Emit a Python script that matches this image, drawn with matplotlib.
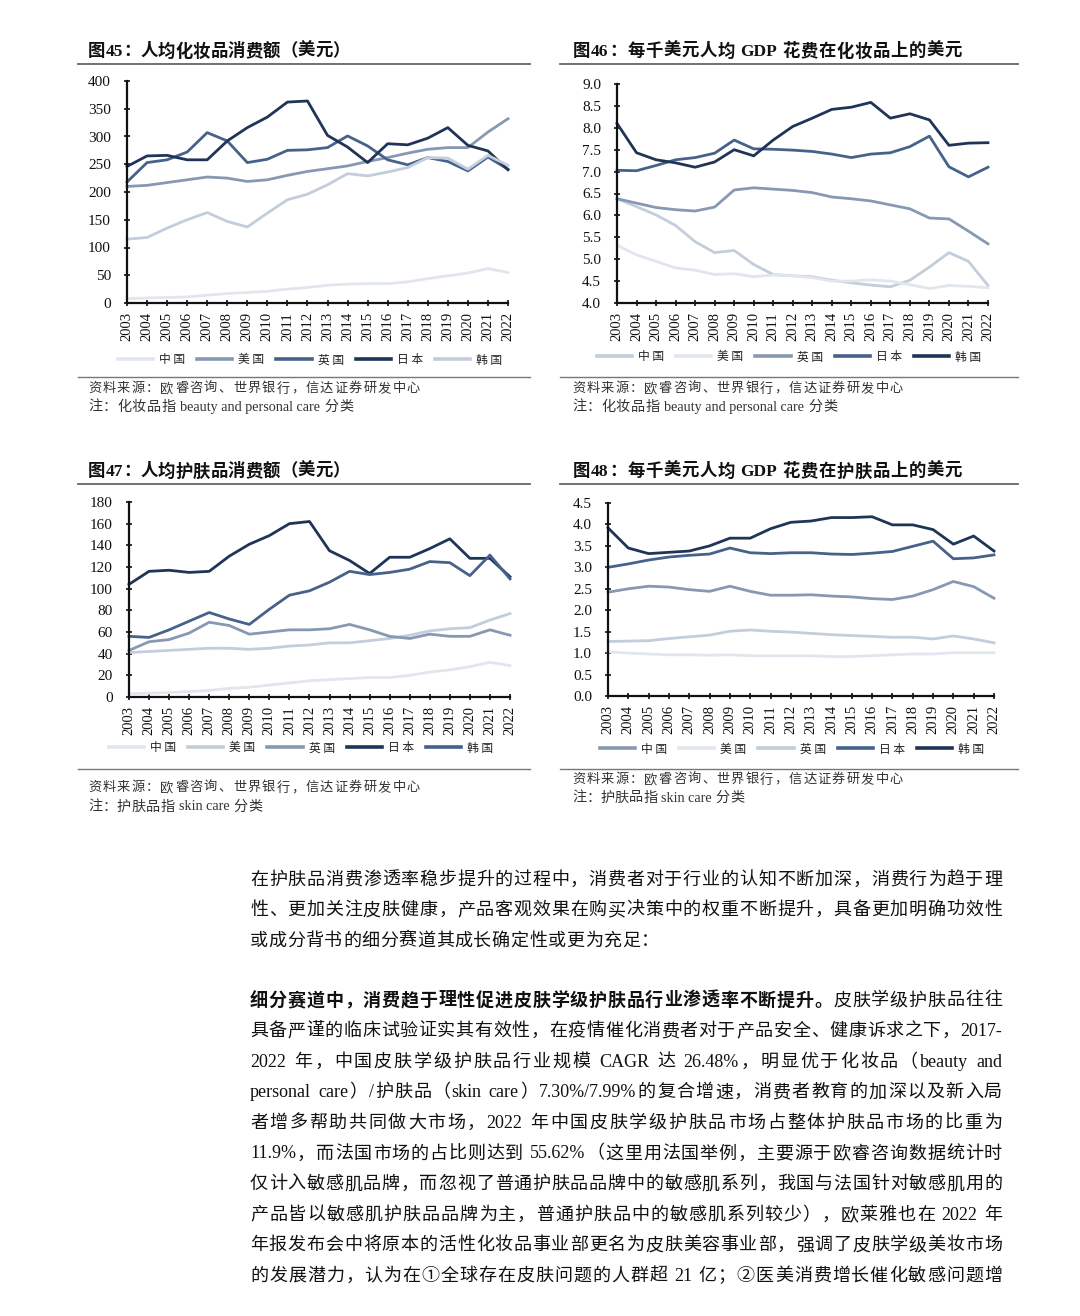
import re
import matplotlib
matplotlib.use('Agg')
import matplotlib.pyplot as plt
from matplotlib.lines import Line2D
from matplotlib.ticker import FormatStrFormatter

W, H = 1080, 1316
DPI = 100

# ---------------- data ----------------
years = list(range(2003, 2023))
year_labels = [str(y) for y in years]
countries = ['中国', '美国', '英国', '日本', '韩国']

# 图45 人均化妆品消费额（美元）
cos_pc_cn = [8, 9, 10, 11, 14, 17, 19, 21, 25, 28, 32, 34, 35, 35, 38, 44, 49, 54, 62, 55]
cos_pc_us = [210, 212, 217, 222, 227, 225, 219, 222, 230, 237, 242, 247, 255, 262, 270, 277, 280, 280, 308, 332]
cos_pc_uk = [218, 253, 258, 272, 307, 292, 253, 259, 275, 276, 280, 301, 283, 258, 249, 262, 255, 238, 263, 241]
cos_pc_jp = [246, 265, 266, 258, 258, 292, 316, 335, 362, 364, 302, 281, 253, 287, 285, 297, 316, 284, 274, 240]
cos_pc_kr = [115, 118, 135, 150, 163, 147, 137, 162, 186, 196, 213, 233, 229, 236, 244, 262, 261, 241, 266, 248]

# 图46 每千美元人均GDP花费在化妆品上的美元
cos_gdp_cn = [6.38, 6.20, 6.01, 5.77, 5.40, 5.15, 5.20, 4.88, 4.65, 4.62, 4.60, 4.52, 4.46, 4.41, 4.37, 4.52, 4.82, 5.15, 4.95, 4.40]
cos_gdp_us = [5.32, 5.10, 4.95, 4.80, 4.75, 4.65, 4.67, 4.60, 4.64, 4.62, 4.58, 4.50, 4.50, 4.53, 4.50, 4.42, 4.33, 4.40, 4.38, 4.35]
cos_gdp_uk = [6.38, 6.28, 6.18, 6.13, 6.10, 6.19, 6.58, 6.63, 6.60, 6.57, 6.52, 6.42, 6.38, 6.33, 6.24, 6.15, 5.94, 5.92, 5.64, 5.35]
cos_gdp_jp = [7.03, 7.02, 7.14, 7.27, 7.32, 7.42, 7.72, 7.52, 7.51, 7.49, 7.46, 7.40, 7.32, 7.40, 7.43, 7.57, 7.81, 7.11, 6.88, 7.10]
cos_gdp_kr = [8.10, 7.43, 7.27, 7.20, 7.10, 7.22, 7.50, 7.36, 7.72, 8.03, 8.22, 8.42, 8.47, 8.58, 8.22, 8.32, 8.18, 7.60, 7.65, 7.66]

# 图47 人均护肤品消费额（美元）
skin_pc_cn = [3, 3.5, 4, 5, 6, 8, 9, 11, 13, 15, 16, 17, 18, 18, 20, 23, 25, 28, 32, 29]
skin_pc_us = [41, 42, 43, 44, 45, 45, 44, 45, 47, 48, 50, 50, 52, 54, 57, 61, 63, 64, 71, 77]
skin_pc_uk = [43, 51, 53, 59, 69, 66, 58, 60, 62, 62, 63, 67, 62, 56, 54, 58, 56, 56, 62, 57]
skin_pc_jp = [104, 116, 117, 115, 116, 130, 141, 149, 160, 162, 135, 126, 114, 129, 129, 137, 146, 128, 128, 111]
skin_pc_kr = [56, 55, 62, 70, 78, 72, 67, 81, 94, 98, 106, 116, 113, 115, 118, 125, 124, 112, 131, 109]

# 图48 每千美元人均GDP花费在护肤品上的美元
skin_gdp_cn = [2.42, 2.50, 2.56, 2.54, 2.48, 2.44, 2.56, 2.44, 2.35, 2.35, 2.36, 2.33, 2.31, 2.27, 2.25, 2.33, 2.48, 2.67, 2.55, 2.28]
skin_gdp_us = [1.03, 1.00, 0.98, 0.96, 0.96, 0.95, 0.96, 0.94, 0.94, 0.94, 0.94, 0.92, 0.92, 0.94, 0.96, 0.98, 0.98, 1.01, 1.01, 1.01]
skin_gdp_uk = [1.27, 1.28, 1.29, 1.34, 1.38, 1.42, 1.51, 1.54, 1.51, 1.49, 1.46, 1.43, 1.41, 1.39, 1.37, 1.37, 1.33, 1.40, 1.33, 1.24]
skin_gdp_jp = [3.00, 3.08, 3.17, 3.24, 3.28, 3.31, 3.45, 3.34, 3.32, 3.34, 3.34, 3.31, 3.30, 3.33, 3.37, 3.49, 3.61, 3.20, 3.22, 3.29]
skin_gdp_kr = [3.92, 3.45, 3.32, 3.35, 3.38, 3.50, 3.68, 3.68, 3.90, 4.05, 4.08, 4.16, 4.16, 4.18, 3.99, 3.99, 3.88, 3.54, 3.73, 3.38]

titles = ['图45：人均化妆品消费额（美元）',
          '图46：每千美元人均 GDP 花费在化妆品上的美元',
          '图47：人均护肤品消费额（美元）',
          '图48：每千美元人均 GDP 花费在护肤品上的美元']
source_text = '资料来源：欧睿咨询、世界银行，信达证券研发中心'
notes = ['注：化妆品指 beauty and personal care 分类',
         '注：化妆品指 beauty and personal care 分类',
         '注：护肤品指 skin care 分类',
         '注：护肤品指 skin care 分类']

# ---------------- style ----------------
C_DARK = '#1f3457'
C_MD = '#46628a'
C_MED = '#8798b3'
C_LT = '#c3cddb'
C_LST = '#e1e6ee'

SERIF_CJK = ['Liberation Serif', 'Noto Sans CJK SC']
CJK = ['Noto Sans CJK SC']

fig = plt.figure(figsize=(W / DPI, H / DPI), dpi=DPI)
fig.patch.set_facecolor('white')
renderer = fig.canvas.get_renderer()


def fx(px):
    return px / W


def fy(py):
    return 1 - py / H


def hline(x0, x1, y, lw=1.2, color='#555555'):
    fig.add_artist(Line2D([fx(x0), fx(x1)], [fy(y), fy(y)], transform=fig.transFigure,
                          lw=lw, color=color))


_cache = {}


def tok_width(tok, fs, weight, style):
    if tok == ' ':
        return fs * 0.25 * DPI / 72
    key = (tok, fs, weight, style)
    if key not in _cache:
        t = fig.text(0, 0, tok, family=SERIF_CJK, fontsize=fs, weight=weight, style=style)
        _cache[key] = t.get_window_extent(renderer).width
        t.remove()
    return _cache[key]


TOK_SIMPLE = r'[A-Za-z0-9.%\-/]+| |.'
TOK_GROUP = r'[A-Za-z0-9.%\-/]+(?: [A-Za-z0-9.%\-/]+)*| |.'


def spaced_text(segs, x0, x1, y, fs, color='#111111', justify=True, gap_default=0.6, group=False):
    """segs: list of (text, weight, style); distributes tokens between x0 and x1."""
    pat = TOK_GROUP if group else TOK_SIMPLE
    toks = []
    for txt, wt, st in segs:
        for tk in re.findall(pat, txt):
            toks.append((tk, wt, st))
    widths = [tok_width(tk, fs, wt, st) for tk, wt, st in toks]
    total = sum(widths)
    gap = (x1 - x0 - total) / (len(toks) - 1) if justify else gap_default
    x = x0
    for (tk, wt, st), w in zip(toks, widths):
        if tk != ' ':
            fig.text(fx(x), fy(y), tk, family=SERIF_CJK, fontsize=fs, weight=wt, style=st,
                     ha='left', va='center', color=color)
        x += w + gap


panels = [
    dict(box=(127, 508, 81, 303), ylim=(0, 400), yticks=list(range(0, 401, 50)), fmt='%d',
         series=[cos_pc_cn, cos_pc_us, cos_pc_uk, cos_pc_jp, cos_pc_kr],
         colors=[C_LST, C_MED, C_MD, C_DARK, C_LT],
         title=(88, 350, 52), rule_x=(78, 530), rule1=64, rule2=377,
         src=(88, 420, 389), note=(88, 353, 407), leg=(310, 360)),
    dict(box=(617, 988, 84, 303), ylim=(4.0, 9.0), yticks=[4.0 + 0.5 * i for i in range(11)], fmt='%.1f',
         series=[cos_gdp_cn, cos_gdp_us, cos_gdp_uk, cos_gdp_jp, cos_gdp_kr],
         colors=[C_LT, C_LST, C_MED, C_MD, C_DARK],
         title=(573, 962, 52), rule_x=(560, 1018), rule1=64, rule2=377,
         src=(572, 903, 389), note=(572, 837, 407), leg=(789, 357)),
    dict(box=(129, 510, 502, 697), ylim=(0, 180), yticks=list(range(0, 181, 20)), fmt='%d',
         series=[skin_pc_cn, skin_pc_us, skin_pc_uk, skin_pc_jp, skin_pc_kr],
         colors=[C_LST, C_LT, C_MED, C_DARK, C_MD],
         title=(88, 350, 472), rule_x=(78, 530), rule1=484, rule2=769,
         src=(88, 420, 788), note=(88, 262, 807), leg=(301, 748)),
    dict(box=(608, 994, 503, 696), ylim=(0, 4.5), yticks=[0.5 * i for i in range(10)], fmt='%.1f',
         series=[skin_gdp_cn, skin_gdp_us, skin_gdp_uk, skin_gdp_jp, skin_gdp_kr],
         colors=[C_MED, C_LST, C_LT, C_MD, C_DARK],
         title=(573, 962, 472), rule_x=(560, 1018), rule1=484, rule2=769,
         src=(572, 903, 780), note=(572, 744, 798), leg=(792, 749)),
]

xs = list(range(len(years)))
for i, p in enumerate(panels):
    l, r, t, b = p['box']
    ax = fig.add_axes([fx(l), fy(b), fx(r - l), (b - t) / H])
    handles = []
    for name, vals, c in zip(countries, p['series'], p['colors']):
        h, = ax.plot(xs, vals, color=c, lw=2.0, label=name, solid_joinstyle='round', clip_on=False)
        handles.append(h)
    ax.set_xlim(0, len(years) - 1)
    ax.set_ylim(*p['ylim'])
    ax.set_yticks(p['yticks'])
    ax.yaxis.set_major_formatter(FormatStrFormatter(p['fmt']))
    ax.set_xticks(xs)
    ax.set_xticklabels(year_labels, rotation=90)
    for s in ['top', 'right']:
        ax.spines[s].set_visible(False)
    for s in ['left', 'bottom']:
        ax.spines[s].set_linewidth(1.6)
        ax.spines[s].set_color('#111111')
    ax.tick_params(axis='both', direction='inout', length=5, width=1.2, color='#111111')
    ax.tick_params(axis='y', pad=9)
    ax.tick_params(axis='x', pad=4)
    for lab in ax.get_yticklabels():
        lab.set_fontfamily('Liberation Serif')
        lab.set_fontsize(11)
        lab.set_color('#111111')
    for lab in ax.get_xticklabels():
        lab.set_fontfamily('Liberation Serif')
        lab.set_fontsize(10.5)
        lab.set_color('#111111')
    ax.patch.set_visible(False)

    leg = fig.legend(handles=handles, labels=[' '.join(c) for c in countries], loc='center',
                     bbox_to_anchor=(fx(p['leg'][0]), fy(p['leg'][1])),
                     ncol=5, frameon=False, handlelength=3.0, handletextpad=0.5,
                     columnspacing=1.0, prop={'family': CJK, 'size': 8.5})
    for lh in leg.get_lines():
        lh.set_linewidth(2.6)
    for tx in leg.get_texts():
        tx.set_color('#222222')

    tx0, tx1, ty = p['title']
    spaced_text([(titles[i], 'bold', 'normal')], tx0, tx1, ty, 12.5, group=True)
    hline(p['rule_x'][0], p['rule_x'][1], p['rule1'], lw=1.3, color='#666666')
    hline(p['rule_x'][0], p['rule_x'][1], p['rule2'], lw=1.0, color='#777777')
    sx0, sx1, sy = p['src']
    spaced_text([(source_text, 'normal', 'normal')], sx0, sx1, sy, 9.5, color='#333333')
    nx0, nx1, ny = p['note']
    spaced_text([(notes[i], 'normal', 'normal')], nx0, nx1, ny, 10.2, color='#333333', group=True)

# ---------------- body text ----------------
N, B, I = ('normal', 'normal'), ('bold', 'normal'), ('normal', 'italic')
body_lines = [
    ([('在护肤品消费渗透率稳步提升的过程中，消费者对于行业的认知不断加深，消费行为趋于理', N)], True),
    ([('性、更加关注皮肤健康，产品客观效果在购买决策中的权重不断提升，具备更加明确功效性', N)], True),
    ([('或成分背书的细分赛道其成长确定性或更为充足：', N)], False),
    ([('细分赛道中，消费趋于理性促进皮肤学级护肤品行业渗透率不断提升。', B), ('皮肤学级护肤品往往', N)], True),
    ([('具备严谨的临床试验证实其有效性，在疫情催化消费者对于产品安全、健康诉求之下，2017-', N)], True),
    ([('2022 年，中国皮肤学级护肤品行业规模 CAGR 达 26.48%，明显优于化妆品（beauty and', N)], True),
    ([('personal care）/护肤品（skin care）7.30%/7.99%的复合增速，消费者教育的加深以及新入局', N)], True),
    ([('者增多帮助共同做大市场，2022 年中国皮肤学级护肤品市场占整体护肤品市场的比重为', N)], True),
    ([('11.9%，而法国市场的占比则达到 55.62%', N), ('（这里用法国举例，主要源于欧睿咨询数据统计时', I)], True),
    ([('仅计入敏感肌品牌，而忽视了普通护肤品品牌中的敏感肌系列，我国与法国针对敏感肌用的', I)], True),
    ([('产品皆以敏感肌护肤品品牌为主，普通护肤品中的敏感肌系列较少）', I), ('，欧莱雅也在 2022 年', N)], True),
    ([('年报发布会中将原本的活性化妆品事业部更名为皮肤美容事业部，强调了皮肤学级美妆市场', N)], True),
    ([('的发展潜力，认为在①全球存在皮肤问题的人群超 21 亿；②医美消费增长催化敏感问题增', N)], True),
]
body_y = [880, 910.6, 941.2] + [1001 + 30.6 * k for k in range(10)]
BX0, BX1 = 250, 1002
FS = 13

for (segs, justify), y in zip(body_lines, body_y):
    spaced_text([(txt, st[0], st[1]) for txt, st in segs], BX0, BX1, y, FS,
                justify=justify, gap_default=0.6)

fig.savefig('out.png', dpi=DPI, facecolor='white')
